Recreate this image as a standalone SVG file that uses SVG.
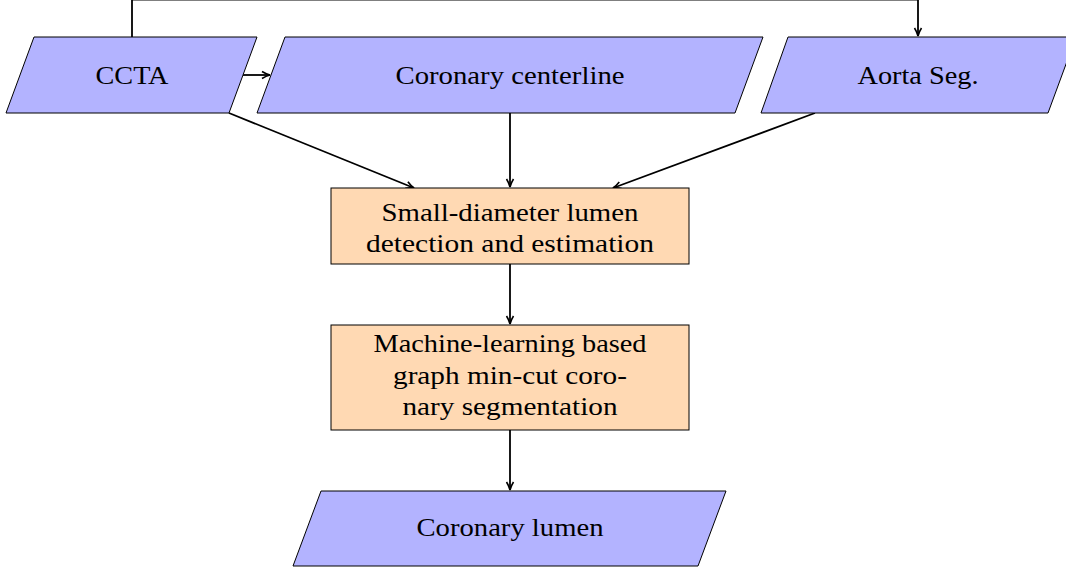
<svg xmlns="http://www.w3.org/2000/svg" width="1066" height="567" viewBox="0 0 1066 567">
<defs>
<style>
.io{fill:#b3b3ff;stroke:#000;stroke-width:1}
.proc{fill:#ffd9b3;stroke:#000;stroke-width:1}
.t{font-family:"Liberation Serif","Times New Roman",serif;font-size:25px;fill:#000;text-anchor:middle}
.c{fill:none;stroke:#000;stroke-width:1.8}
</style>
<marker id="ah" viewBox="0 0 10 10" refX="9" refY="5" markerWidth="10" markerHeight="10" markerUnits="userSpaceOnUse" orient="auto">
<path d="M1,1.5 Q5,4 9,5 Q5,6 1,8.5" fill="none" stroke="#000" stroke-width="1.6"/>
</marker>
</defs>
<rect width="1066" height="567" fill="#fff"/>
<g id="connectors">
<polyline class="c" points="132,37 132,-0.5 918,-0.5 918,36" marker-end="url(#ah)"/>
<line class="c" x1="243" y1="75" x2="270" y2="75" marker-end="url(#ah)"/>
<line class="c" x1="229" y1="113" x2="414" y2="188" marker-end="url(#ah)"/>
<line class="c" x1="510" y1="113" x2="510" y2="187" marker-end="url(#ah)"/>
<line class="c" x1="815" y1="113" x2="613" y2="188" marker-end="url(#ah)"/>
<line class="c" x1="510" y1="264" x2="510" y2="324" marker-end="url(#ah)"/>
<line class="c" x1="510" y1="430" x2="510" y2="490" marker-end="url(#ah)"/>
</g>
<g id="ccta">
<polygon class="io" points="34,37 257,37 229,113 6,113"/>
<text class="t" x="132" y="84" textLength="73" lengthAdjust="spacingAndGlyphs">CCTA</text>
</g>
<g id="centerline">
<polygon class="io" points="285,37 763,37 735,113 257,113"/>
<text class="t" x="510" y="84" textLength="229" lengthAdjust="spacingAndGlyphs">Coronary centerline</text>
</g>
<g id="aorta">
<polygon class="io" points="788,37 1076,37 1048,113 761,113"/>
<text class="t" x="918" y="84" textLength="121" lengthAdjust="spacingAndGlyphs">Aorta Seg.</text>
</g>
<g id="small">
<rect class="proc" x="331" y="188" width="358" height="76"/>
<text class="t" x="510" y="221" textLength="257" lengthAdjust="spacingAndGlyphs">Small-diameter lumen</text>
<text class="t" x="510" y="252" textLength="288" lengthAdjust="spacingAndGlyphs">detection and estimation</text>
</g>
<g id="machine">
<rect class="proc" x="331" y="325" width="358" height="105"/>
<text class="t" x="510" y="352" textLength="273" lengthAdjust="spacingAndGlyphs">Machine-learning based</text>
<text class="t" x="510" y="384" textLength="234" lengthAdjust="spacingAndGlyphs">graph min-cut coro-</text>
<text class="t" x="510" y="415" textLength="215" lengthAdjust="spacingAndGlyphs">nary segmentation</text>
</g>
<g id="lumen">
<polygon class="io" points="321,491 726,491 698,566 293,566"/>
<text class="t" x="510" y="536" textLength="187" lengthAdjust="spacingAndGlyphs">Coronary lumen</text>
</g>
</svg>
